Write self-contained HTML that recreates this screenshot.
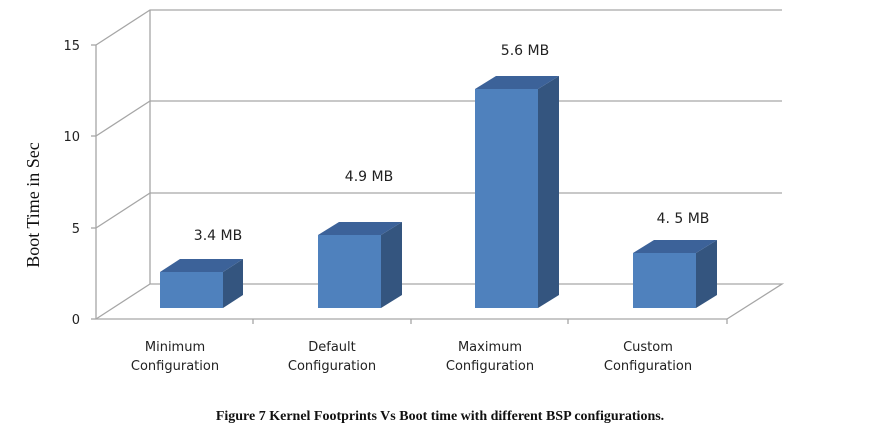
<!DOCTYPE html>
<html><head><style>
body{margin:0;background:#fff;}
svg{display:block}
</style></head><body>
<svg width="880" height="430" viewBox="0 0 880 430" xmlns="http://www.w3.org/2000/svg">
<g stroke="#a6a6a6" stroke-width="1.3" fill="none">
<polyline points="96,45 150,10 782,10"/>
<polyline points="96,136 150,101 782,101"/>
<polyline points="96,228 150,193 782,193"/>
<polyline points="96,319 150,284 782,284 727,319"/>
<line x1="150" y1="10" x2="150" y2="284"/>
<line x1="96" y1="45" x2="96" y2="319"/>
<line x1="96" y1="319" x2="727" y2="319"/>
<line x1="91" y1="45" x2="96" y2="45"/><line x1="91" y1="136" x2="96" y2="136"/>
<line x1="91" y1="228" x2="96" y2="228"/><line x1="91" y1="319" x2="96" y2="319"/>
<line x1="253" y1="319" x2="253" y2="324"/><line x1="411" y1="319" x2="411" y2="324"/>
<line x1="568" y1="319" x2="568" y2="324"/><line x1="727" y1="319" x2="727" y2="324"/>
</g>
<g font-family="'DejaVu Sans','Liberation Sans',sans-serif" font-size="13" fill="#222" text-anchor="end">
<text x="80" y="50">15</text><text x="80" y="141">10</text><text x="80" y="233">5</text><text x="80" y="324">0</text>
</g>
<g>
<polygon points="223,272 243,259 243,295 223,308" fill="#34557f"/>
<polygon points="160,272 180,259 243,259 223,272" fill="#3c6299"/>
<rect x="160" y="272" width="63" height="36" fill="#4f81bd"/>
<polygon points="381,235 402,222 402,295 381,308" fill="#34557f"/>
<polygon points="318,235 339,222 402,222 381,235" fill="#3c6299"/>
<rect x="318" y="235" width="63" height="73" fill="#4f81bd"/>
<polygon points="538,89 559,76 559,295 538,308" fill="#34557f"/>
<polygon points="475,89 496,76 559,76 538,89" fill="#3c6299"/>
<rect x="475" y="89" width="63" height="219" fill="#4f81bd"/>
<polygon points="696,253 717,240 717,295 696,308" fill="#34557f"/>
<polygon points="633,253 654,240 717,240 696,253" fill="#3c6299"/>
<rect x="633" y="253" width="63" height="55" fill="#4f81bd"/>
</g>
<g font-family="'DejaVu Sans','Liberation Sans',sans-serif" font-size="14" fill="#222" text-anchor="middle">
<text x="218" y="240">3.4 MB</text>
<text x="369" y="181">4.9 MB</text>
<text x="525" y="55">5.6 MB</text>
<text x="683" y="223">4. 5 MB</text>
</g>
<g font-family="'DejaVu Sans','Liberation Sans',sans-serif" font-size="13" fill="#222" text-anchor="middle">
<text x="175" y="351">Minimum</text><text x="175" y="370">Configuration</text>
<text x="332" y="351">Default</text><text x="332" y="370">Configuration</text>
<text x="490" y="351">Maximum</text><text x="490" y="370">Configuration</text>
<text x="648" y="351">Custom</text><text x="648" y="370">Configuration</text>
</g>
<text transform="translate(39,205) rotate(-90)" font-family="'Liberation Serif',serif" font-size="18" fill="#111" text-anchor="middle">Boot Time in Sec</text>
<text x="440" y="420" font-family="'Liberation Serif',serif" font-size="14" font-weight="bold" fill="#111" text-anchor="middle">Figure 7 Kernel Footprints Vs Boot time with different BSP configurations.</text>
</svg>
</body></html>
